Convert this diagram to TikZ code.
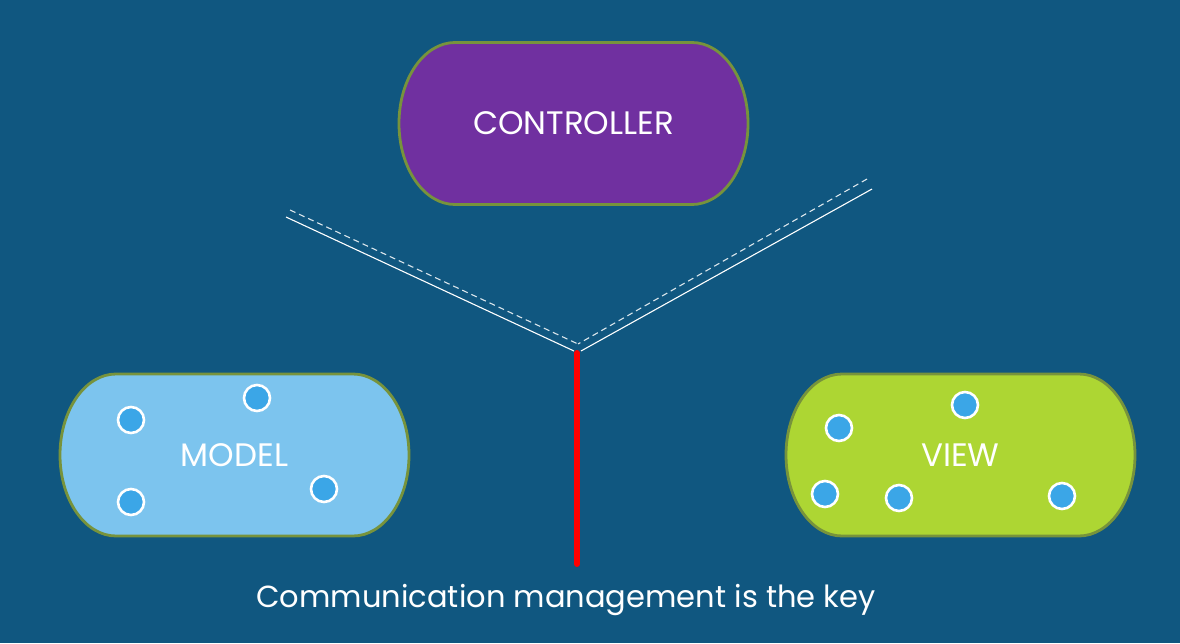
\documentclass[tikz,border=0pt]{standalone}
\usepackage{fontspec}
\setmainfont{Poppins}
\usetikzlibrary{calc}
\definecolor{bgblue}{RGB}{16,87,128}
\definecolor{ctrlpurple}{RGB}{112,48,160}
\definecolor{modelblue}{RGB}{124,196,238}
\definecolor{viewgreen}{RGB}{173,214,51}
\definecolor{rim}{RGB}{119,147,60}
\definecolor{dotblue}{RGB}{59,166,231}
\definecolor{keyred}{RGB}{255,0,0}

\tikzset{
  pod/.style={rectangle,fill=bgblue,minimum width=353pt,minimum height=166pt,
    inner sep=0pt,text=white,font=\fontsize{32.5}{36}\selectfont,
    path picture={
      \draw[rim,line width=2.8pt,fill=#1]
        ([xshift=58pt,yshift=-2pt]path picture bounding box.north west)
        -- ([xshift=-58pt,yshift=-2pt]path picture bounding box.north east)
        arc[start angle=90,end angle=-90,x radius=56pt,y radius=81pt]
        -- ([xshift=58pt,yshift=2pt]path picture bounding box.south west)
        arc[start angle=270,end angle=90,x radius=56pt,y radius=81pt]
        -- cycle;}},
  dot/.style={circle,fill=dotblue,draw=white,line width=2.6pt,
    minimum size=26pt,inner sep=0pt},
  wire/.style={white,line width=1.1pt},
  wiredash/.style={white!85!bgblue,line width=1.1pt,dash pattern=on 6pt off 4pt}
}

\begin{document}
\begin{tikzpicture}[x=1pt,y=-1pt]
  % background
  \fill[bgblue] (0,0) rectangle (1180,643);
  \useasboundingbox (0,0) rectangle (1180,643);

  % the three parts
  \node[pod=ctrlpurple] (ctrl) at (573.5,123.5) {CONTROLLER};
  \node[pod=modelblue] (model) at (234.5,455) {MODEL};
  \node[pod=viewgreen] (view) at (960.5,455) {VIEW};

  % objects inside
  \foreach \n/\px/\py in {1/131/420, 2/257/398, 3/131/502, 4/324/489}
    \node[dot] (m\n) at (\px,\py) {};
  \foreach \n/\px/\py in {1/839/428, 2/965/405, 3/825/494, 4/899/498, 5/1062/496}
    \node[dot] (v\n) at (\px,\py) {};

  % links meeting in the middle
  \coordinate (lsolid) at (286,217);
  \coordinate (ldash) at (290,210);
  \coordinate (rsolid) at (872,189);
  \coordinate (rdash) at (867,179);
  \coordinate (hubl) at (574,351);
  \coordinate (hubr) at (581,351);
  \coordinate (hubd) at (578,344);
  \draw[wire] (lsolid) -- (hubl);
  \draw[wire] (rsolid) -- (hubr);
  \draw[wiredash] (ldash) -- (hubd);
  \draw[wiredash] (rdash) -- (hubd);

  % the key
  \node[text=white,font=\fontsize{30.5}{34}\selectfont] (key) at (566,600)
    {Communication management is the key};
  \coordinate (hub) at (577,353);
  \coordinate (keytop) at (577,564);
  \draw[keyred,line width=6pt,line cap=round] (hub) -- (keytop);
\end{tikzpicture}
\end{document}
